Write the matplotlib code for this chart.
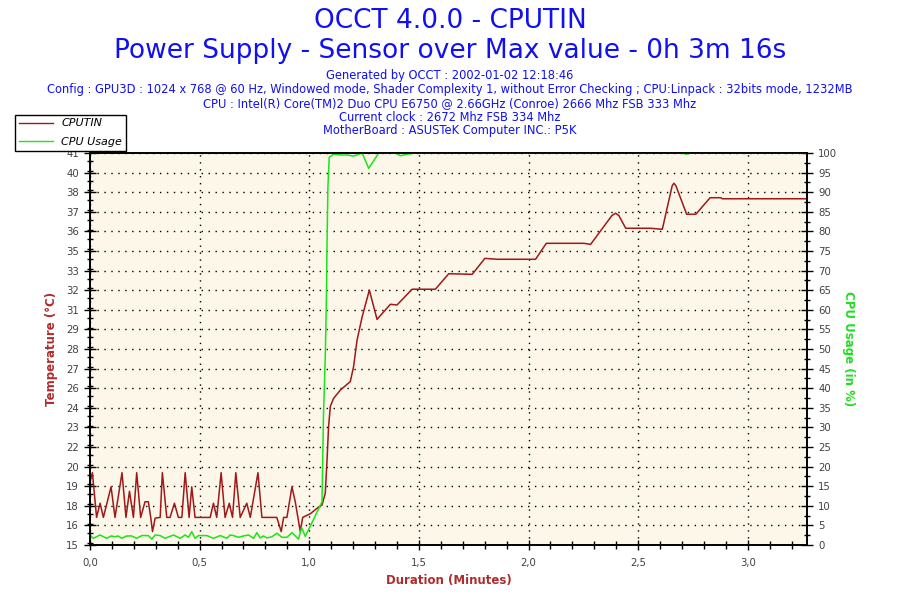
import numpy as np
import matplotlib
matplotlib.use('Agg')
import matplotlib.pyplot as plt
from matplotlib.ticker import MultipleLocator, FuncFormatter
from matplotlib.lines import Line2D

# Text
title_main = "OCCT 4.0.0 - CPUTIN"
title_sub = "Power Supply - Sensor over Max value - 0h 3m 16s"
info_lines = [
    "Generated by OCCT : 2002-01-02 12:18:46",
    "Config : GPU3D : 1024 x 768 @ 60 Hz, Windowed mode, Shader Complexity 1, without Error Checking ; CPU:Linpack : 32bits mode, 1232MB",
    "CPU : Intel(R) Core(TM)2 Duo CPU E6750 @ 2.66GHz (Conroe) 2666 Mhz FSB 333 Mhz",
    "Current clock : 2672 Mhz FSB 334 Mhz",
    "MotherBoard : ASUSTeK Computer INC.: P5K",
]

# CPUTIN temperature (deg C) vs duration (minutes)
temp_minutes = [0.000, 0.011, 0.030, 0.046, 0.061, 0.096, 0.114, 0.146, 0.164, 0.180,
                0.198, 0.213, 0.231, 0.251, 0.266, 0.277, 0.285, 0.297, 0.320, 0.330,
                0.350, 0.365, 0.385, 0.403, 0.419, 0.434, 0.452, 0.464, 0.479, 0.548,
                0.563, 0.578, 0.598, 0.616, 0.635, 0.650, 0.665, 0.685, 0.715, 0.731,
                0.766, 0.784, 0.852, 0.872, 0.883, 0.898, 0.921, 0.936, 0.959, 0.970,
                1.005, 1.043, 1.058, 1.073, 1.081, 1.088, 1.096, 1.111, 1.142, 1.187,
                1.202, 1.218, 1.241, 1.274, 1.309, 1.370, 1.400, 1.469, 1.575, 1.636,
                1.743, 1.801, 1.857, 2.032, 2.081, 2.253, 2.283, 2.380, 2.397, 2.412,
                2.443, 2.557, 2.610, 2.655, 2.663, 2.672, 2.721, 2.763, 2.828, 2.877,
                2.884, 3.272]
temp_values = [19.2, 19.85, 16.85, 17.8, 16.85, 18.9, 16.85, 19.85, 16.85, 18.6,
               16.85, 19.85, 16.85, 17.9, 17.9, 16.85, 15.9, 16.8, 16.85, 19.85,
               16.85, 16.85, 17.8, 16.85, 16.85, 19.85, 16.85, 18.9, 16.85, 16.85,
               17.8, 16.85, 19.85, 16.85, 17.8, 16.85, 19.85, 16.85, 17.8, 16.85,
               19.85, 16.85, 16.85, 15.9, 16.85, 16.85, 18.9, 17.9, 15.9, 16.85,
               17.1, 17.55, 17.68, 18.47, 20.7, 22.94, 24.3, 24.84, 25.4, 25.96,
               26.96, 28.75, 30.3, 32.1, 30.14, 31.15, 31.1, 32.16, 32.16, 33.2,
               33.16, 34.23, 34.17, 34.17, 35.24, 35.24, 35.17, 37.1, 37.26, 37.1,
               36.25, 36.25, 36.18, 39.1, 39.27, 39.1, 37.19, 37.19, 38.3, 38.3,
               38.23, 38.23]

# CPU usage (%) vs duration (minutes)
cpu_minutes = [0.000, 0.015, 0.046, 0.076, 0.096, 0.114, 0.129, 0.145, 0.167, 0.190,
               0.213, 0.236, 0.266, 0.282, 0.297, 0.320, 0.342, 0.381, 0.411, 0.434,
               0.449, 0.464, 0.479, 0.495, 0.533, 0.563, 0.594, 0.624, 0.639, 0.654,
               0.677, 0.700, 0.723, 0.746, 0.761, 0.776, 0.791, 0.807, 0.830, 0.852,
               0.875, 0.898, 0.921, 0.936, 0.951, 0.965, 0.982, 1.058, 1.065, 1.073,
               1.078, 1.081, 1.085, 1.091, 1.111, 1.142, 1.172, 1.202, 1.241, 1.271,
               1.317, 1.393, 1.416, 1.446, 1.484, 2.700, 2.720, 2.740, 3.272]
cpu_values = [2.55, 1.7, 2.55, 1.7, 2.3, 2.1, 2.3, 1.7, 2.3, 2.3,
              1.7, 2.4, 2.4, 1.5, 2.55, 2.4, 1.7, 2.55, 1.7, 2.55,
              1.96, 3.4, 1.7, 2.4, 2.4, 1.7, 2.4, 1.7, 2.55, 2.4,
              1.96, 2.3, 2.55, 1.7, 3.15, 1.8, 2.3, 1.8, 2.1, 3.0,
              1.96, 1.96, 3.15, 2.3, 1.5, 4.4, 2.2, 11.0, 33.6, 48.0,
              62.5, 77.0, 91.4, 98.9, 99.7, 99.5, 99.5, 99.2, 100.0, 96.1,
              100.0, 100.0, 99.3, 99.7, 100.0, 100.0, 99.7, 100.0, 100.0]

temp_tick_labels = ['15', '16', '18', '19', '20', '22', '23', '24', '26', '27', '28',
                    '29', '31', '32', '33', '35', '36', '37', '38', '40', '41']

temp_color = '#a01818'
cpu_color = '#19e619'
label_red = '#b02c2c'
label_green = '#22dd22'
text_blue = '#1010f0'
tick_grey = '#404040'

fig = plt.figure(figsize=(9, 6), dpi=100, facecolor='white')
ax = fig.add_axes([0.1, 0.0917, 0.7967, 0.6533])
ax.set_facecolor('#fcf7e9')
ax2 = ax.twinx()

ax.plot(temp_minutes, temp_values, color=temp_color, linewidth=1.1)
ax2.plot(cpu_minutes, cpu_values, color=cpu_color, linewidth=1.1)

ax.set_xlim(0, 3.27)
temp_top = 41.3
ax.set_ylim(15, temp_top)
ax2.set_ylim(0, 100)

ax.set_yticks(np.linspace(15, temp_top, 21))
ax.set_yticklabels(temp_tick_labels)
ax.yaxis.set_minor_locator(MultipleLocator((temp_top - 15) / 40))
ax2.set_yticks(np.arange(0, 101, 5))
ax2.yaxis.set_minor_locator(MultipleLocator(2.5))

ax.xaxis.set_major_locator(MultipleLocator(0.5))
ax.xaxis.set_minor_locator(MultipleLocator(0.1))
ax.xaxis.set_major_formatter(FuncFormatter(lambda v, p: f"{v:.1f}".replace('.', ',')))

ax.grid(True, which='major', color='black', linestyle=(0, (1, 4)), linewidth=1.0)

for a in (ax, ax2):
    a.tick_params(which='major', direction='inout', length=9, width=1, colors='black',
                  labelcolor=tick_grey, labelsize=7.3)
    a.tick_params(which='minor', direction='inout', length=5, width=1, colors='black')
    for s in a.spines.values():
        s.set_linewidth(1.2)
        s.set_color('black')
ax.tick_params(axis='x', which='major', length=7, pad=6)
ax.tick_params(axis='x', which='minor', length=6)

ax.set_xlabel('Duration (Minutes)', color=label_red, fontsize=8.5, fontweight='bold', labelpad=4)
ax.set_ylabel('Temperature (°C)', color=label_red, fontsize=8.5, fontweight='bold', labelpad=6)
ax2.set_ylabel('CPU Usage (in %)', color=label_green, fontsize=8.5, fontweight='bold',
               rotation=270, labelpad=13)

fig.text(0.5, 0.965, title_main, ha='center', va='center', color=text_blue, fontsize=19)
fig.text(0.5, 0.915, title_sub, ha='center', va='center', color=text_blue, fontsize=19)
info_y = [0.874, 0.850, 0.827, 0.804, 0.782]
for txt, yy in zip(info_lines, info_y):
    fig.text(0.5, yy, txt, ha='center', va='center', color=text_blue, fontsize=8.3)

handles = [Line2D([], [], color=temp_color, linewidth=1),
           Line2D([], [], color=cpu_color, linewidth=1)]
leg = fig.legend(handles, ['CPUTIN', 'CPU Usage'], loc='upper left',
                 bbox_to_anchor=(0.017, 0.809), frameon=True, fancybox=False,
                 edgecolor='black', framealpha=1, prop={'size': 8, 'style': 'italic'},
                 borderpad=0.35, handlelength=3.0, labelspacing=0.75, borderaxespad=0,
                 handletextpad=0.8)
leg.get_frame().set_linewidth(1.0)

fig.savefig('out.png', dpi=100, facecolor='white')
